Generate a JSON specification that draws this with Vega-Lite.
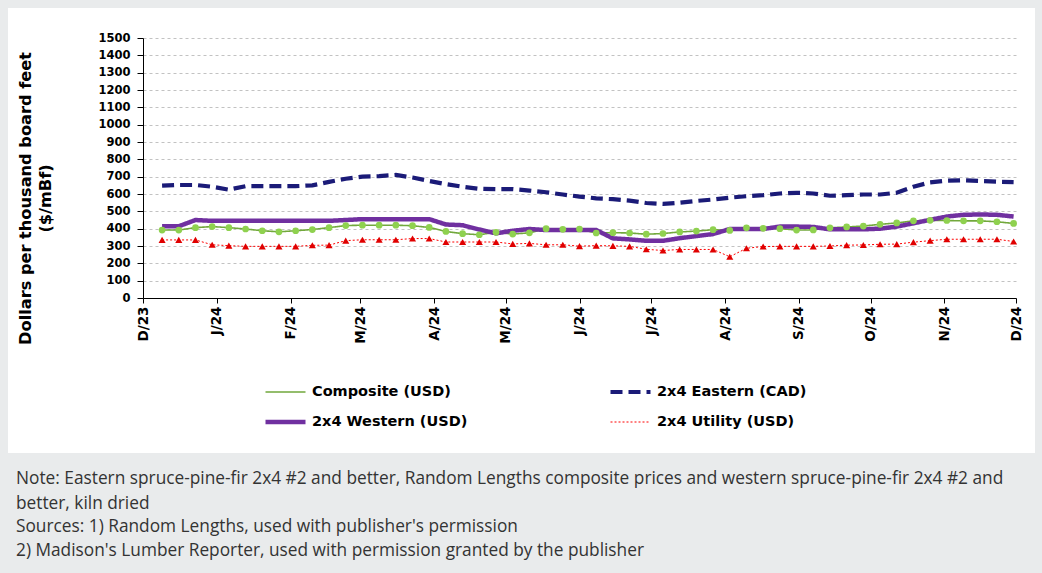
{
  "$schema": "https://vega.github.io/schema/vega-lite/v6.json",
  "width": 1027,
  "height": 445,
  "autosize": "none",
  "padding": {"left": 8, "top": 8, "right": 7, "bottom": 120},
  "background": "#e9ebec",
  "view": {"fill": "white", "stroke": null},
  "config": {"font": "DejaVu Sans"},
  "title": {
    "text": ["Note: Eastern spruce-pine-fir 2x4 #2 and better, Random Lengths composite prices and western spruce-pine-fir 2x4 #2 and", "better, kiln dried"],
    "subtitle": ["Sources: 1) Random Lengths, used with publisher's permission", "2) Madison's Lumber Reporter, used with permission granted by the publisher"],
    "orient": "bottom",
    "anchor": "start",
    "frame": "group",
    "offset": 17,
    "dx": 8,
    "font": "Open Sans",
    "fontSize": 17.3,
    "fontWeight": "normal",
    "color": "#333333",
    "lineHeight": 24.5,
    "subtitleFont": "Open Sans",
    "subtitleFontSize": 17.3,
    "subtitleColor": "#333333",
    "subtitleLineHeight": 24.5,
    "subtitlePadding": 6
  },
  "data": {
    "values": [
      {"date": "2023-12-09", "composite": 392, "eastern": 648, "western": 414, "utility": 335},
      {"date": "2023-12-16", "composite": 392, "eastern": 652, "western": 414, "utility": 335},
      {"date": "2023-12-23", "composite": 406, "eastern": 652, "western": 450, "utility": 335},
      {"date": "2023-12-30", "composite": 412, "eastern": 642, "western": 445, "utility": 307},
      {"date": "2024-01-06", "composite": 406, "eastern": 625, "western": 445, "utility": 302},
      {"date": "2024-01-13", "composite": 398, "eastern": 645, "western": 445, "utility": 298},
      {"date": "2024-01-20", "composite": 388, "eastern": 645, "western": 445, "utility": 298},
      {"date": "2024-01-27", "composite": 382, "eastern": 645, "western": 445, "utility": 298},
      {"date": "2024-02-03", "composite": 388, "eastern": 645, "western": 445, "utility": 298},
      {"date": "2024-02-10", "composite": 395, "eastern": 650, "western": 445, "utility": 304},
      {"date": "2024-02-17", "composite": 406, "eastern": 670, "western": 445, "utility": 305},
      {"date": "2024-02-24", "composite": 418, "eastern": 688, "western": 450, "utility": 331},
      {"date": "2024-03-02", "composite": 420, "eastern": 700, "western": 455, "utility": 336},
      {"date": "2024-03-09", "composite": 420, "eastern": 703, "western": 455, "utility": 336},
      {"date": "2024-03-16", "composite": 420, "eastern": 710, "western": 455, "utility": 336},
      {"date": "2024-03-23", "composite": 417, "eastern": 695, "western": 455, "utility": 343},
      {"date": "2024-03-30", "composite": 407, "eastern": 675, "western": 455, "utility": 343},
      {"date": "2024-04-06", "composite": 384, "eastern": 657, "western": 424, "utility": 323},
      {"date": "2024-04-13", "composite": 371, "eastern": 642, "western": 420, "utility": 323},
      {"date": "2024-04-20", "composite": 365, "eastern": 630, "western": 395, "utility": 323},
      {"date": "2024-04-27", "composite": 379, "eastern": 628, "western": 373, "utility": 323},
      {"date": "2024-05-04", "composite": 369, "eastern": 628, "western": 388, "utility": 312},
      {"date": "2024-05-11", "composite": 376, "eastern": 620, "western": 398, "utility": 315},
      {"date": "2024-05-18", "composite": 400, "eastern": 610, "western": 392, "utility": 307},
      {"date": "2024-05-25", "composite": 396, "eastern": 597, "western": 392, "utility": 307},
      {"date": "2024-06-01", "composite": 398, "eastern": 585, "western": 392, "utility": 299},
      {"date": "2024-06-08", "composite": 375, "eastern": 575, "western": 392, "utility": 302},
      {"date": "2024-06-15", "composite": 377, "eastern": 570, "western": 344, "utility": 301},
      {"date": "2024-06-22", "composite": 375, "eastern": 562, "western": 338, "utility": 298},
      {"date": "2024-06-29", "composite": 368, "eastern": 548, "western": 330, "utility": 281},
      {"date": "2024-07-06", "composite": 372, "eastern": 543, "western": 330, "utility": 274},
      {"date": "2024-07-13", "composite": 381, "eastern": 550, "western": 345, "utility": 280},
      {"date": "2024-07-20", "composite": 386, "eastern": 560, "western": 357, "utility": 280},
      {"date": "2024-07-27", "composite": 394, "eastern": 568, "western": 369, "utility": 280},
      {"date": "2024-08-03", "composite": 390, "eastern": 579, "western": 398, "utility": 238},
      {"date": "2024-08-10", "composite": 405, "eastern": 587, "western": 398, "utility": 287},
      {"date": "2024-08-17", "composite": 402, "eastern": 593, "western": 398, "utility": 297},
      {"date": "2024-08-24", "composite": 400, "eastern": 603, "western": 412, "utility": 298},
      {"date": "2024-08-31", "composite": 392, "eastern": 607, "western": 412, "utility": 298},
      {"date": "2024-09-07", "composite": 393, "eastern": 603, "western": 410, "utility": 298},
      {"date": "2024-09-14", "composite": 405, "eastern": 590, "western": 396, "utility": 300},
      {"date": "2024-09-21", "composite": 410, "eastern": 593, "western": 396, "utility": 305},
      {"date": "2024-09-28", "composite": 415, "eastern": 597, "western": 396, "utility": 306},
      {"date": "2024-10-05", "composite": 425, "eastern": 597, "western": 400, "utility": 310},
      {"date": "2024-10-12", "composite": 433, "eastern": 607, "western": 412, "utility": 311},
      {"date": "2024-10-19", "composite": 445, "eastern": 642, "western": 431, "utility": 322},
      {"date": "2024-10-26", "composite": 448, "eastern": 667, "western": 451, "utility": 331},
      {"date": "2024-11-02", "composite": 447, "eastern": 677, "western": 470, "utility": 339},
      {"date": "2024-11-09", "composite": 445, "eastern": 679, "western": 480, "utility": 339},
      {"date": "2024-11-16", "composite": 445, "eastern": 675, "western": 482, "utility": 339},
      {"date": "2024-11-23", "composite": 440, "eastern": 671, "western": 480, "utility": 339},
      {"date": "2024-11-30", "composite": 430, "eastern": 669, "western": 470, "utility": 326}
    ]
  },
  "transform": [
    {"fold": ["composite", "eastern", "western", "utility"], "as": ["series", "price"]}
  ],
  "encoding": {
    "x": {
      "field": "date",
      "type": "temporal",
      "scale": {
        "type": "utc",
        "domain": [{"year": 2023, "month": 12, "date": 1, "utc": true}, {"year": 2024, "month": 12, "date": 1, "utc": true}],
        "range": [135, 1008]
      },
      "axis": {
        "orient": "bottom",
        "offset": -155,
        "values": [
          {"year": 2023, "month": 12, "date": 1, "utc": true},
          {"year": 2024, "month": 1, "date": 1, "utc": true},
          {"year": 2024, "month": 2, "date": 1, "utc": true},
          {"year": 2024, "month": 3, "date": 1, "utc": true},
          {"year": 2024, "month": 4, "date": 1, "utc": true},
          {"year": 2024, "month": 5, "date": 1, "utc": true},
          {"year": 2024, "month": 6, "date": 1, "utc": true},
          {"year": 2024, "month": 7, "date": 1, "utc": true},
          {"year": 2024, "month": 8, "date": 1, "utc": true},
          {"year": 2024, "month": 9, "date": 1, "utc": true},
          {"year": 2024, "month": 10, "date": 1, "utc": true},
          {"year": 2024, "month": 11, "date": 1, "utc": true},
          {"year": 2024, "month": 12, "date": 1, "utc": true}
        ],
        "labelExpr": "slice(utcFormat(datum.value, '%b'), 0, 1) + '/' + utcFormat(datum.value, '%y')",
        "labelAngle": 270,
        "labelFont": "DejaVu Sans",
        "labelFontWeight": "bold",
        "labelFontSize": 13.5,
        "labelColor": "black",
        "labelPadding": 3,
        "labelOverlap": false,
        "labelFlush": false,
        "labelBound": false,
        "tickSize": 5,
        "tickColor": "black",
        "domainColor": "black",
        "grid": false,
        "title": null
      }
    },
    "y": {
      "field": "price",
      "type": "quantitative",
      "scale": {"domain": [0, 1500], "range": [290, 30], "nice": false},
      "axis": {
        "orient": "left",
        "offset": -135,
        "values": [0, 100, 200, 300, 400, 500, 600, 700, 800, 900, 1000, 1100, 1200, 1300, 1400, 1500],
        "format": "d",
        "labelFont": "DejaVu Sans",
        "labelFontWeight": "bold",
        "labelFontSize": 11.5,
        "labelColor": "black",
        "labelPadding": 7,
        "tickSize": 6,
        "tickColor": "black",
        "domainColor": "black",
        "grid": true,
        "gridDash": [3, 3],
        "gridColor": "#c2c2c2",
        "gridWidth": 1,
        "title": ["Dollars per thousand board feet", "($/mBf)"],
        "titleFont": "DejaVu Sans",
        "titleFontSize": 16.2,
        "titleFontWeight": "bold",
        "titleColor": "black",
        "titleLineHeight": 20,
        "titleX": -110,
        "titleY": 190
      }
    }
  },
  "layer": [
    {
      "mark": {"type": "line", "strokeCap": "butt"},
      "encoding": {
        "color": {
          "field": "series",
          "type": "nominal",
          "scale": {"domain": ["composite", "eastern", "western", "utility"], "range": ["#72a83c", "#1b1b78", "#7030a0", "#ff0000"]},
          "legend": {
            "orient": "none", "legendX": 255, "legendY": 374, "columns": 2, "direction": "horizontal", "columnPadding": 140, "rowPadding": 10, "clipHeight": 20,
            "symbolType": "stroke", "symbolSize": 1600, "title": null,
            "labelFont": "DejaVu Sans", "labelFontWeight": "bold", "labelFontSize": 14.5, "labelColor": "black", "labelOffset": 4,
            "labelExpr": "{'composite': 'Composite (USD)', 'eastern': '2x4 Eastern (CAD)', 'western': '2x4 Western (USD)', 'utility': '2x4 Utility (USD)'}[datum.label]"
          }
        },
        "strokeDash": {
          "field": "series",
          "type": "nominal",
          "scale": {"domain": ["composite", "eastern", "western", "utility"], "range": [[1, 0], [12, 6], [1, 0], [2, 2]]},
          "legend": {
            "orient": "none", "legendX": 255, "legendY": 374, "columns": 2, "direction": "horizontal", "columnPadding": 140, "rowPadding": 10, "clipHeight": 20,
            "symbolType": "stroke", "symbolSize": 1600, "title": null,
            "labelFont": "DejaVu Sans", "labelFontWeight": "bold", "labelFontSize": 14.5, "labelColor": "black", "labelOffset": 4,
            "labelExpr": "{'composite': 'Composite (USD)', 'eastern': '2x4 Eastern (CAD)', 'western': '2x4 Western (USD)', 'utility': '2x4 Utility (USD)'}[datum.label]"
          }
        },
        "strokeWidth": {
          "field": "series",
          "type": "nominal",
          "scale": {"type": "ordinal", "domain": ["composite", "eastern", "western", "utility"], "range": [1.6, 4.2, 4.5, 1]},
          "legend": {
            "orient": "none", "legendX": 255, "legendY": 374, "columns": 2, "direction": "horizontal", "columnPadding": 140, "rowPadding": 10, "clipHeight": 20,
            "symbolType": "stroke", "symbolSize": 1600, "title": null,
            "labelFont": "DejaVu Sans", "labelFontWeight": "bold", "labelFontSize": 14.5, "labelColor": "black", "labelOffset": 4,
            "labelExpr": "{'composite': 'Composite (USD)', 'eastern': '2x4 Eastern (CAD)', 'western': '2x4 Western (USD)', 'utility': '2x4 Utility (USD)'}[datum.label]"
          }
        }
      }
    },
    {
      "transform": [{"filter": "datum.series == 'composite'"}],
      "mark": {"type": "circle", "size": 45, "color": "#8fd14f", "opacity": 1}
    },
    {
      "transform": [{"filter": "datum.series == 'utility'"}],
      "mark": {"type": "point", "shape": "triangle-up", "filled": true, "size": 50, "color": "#e00000", "opacity": 1}
    }
  ]
}
